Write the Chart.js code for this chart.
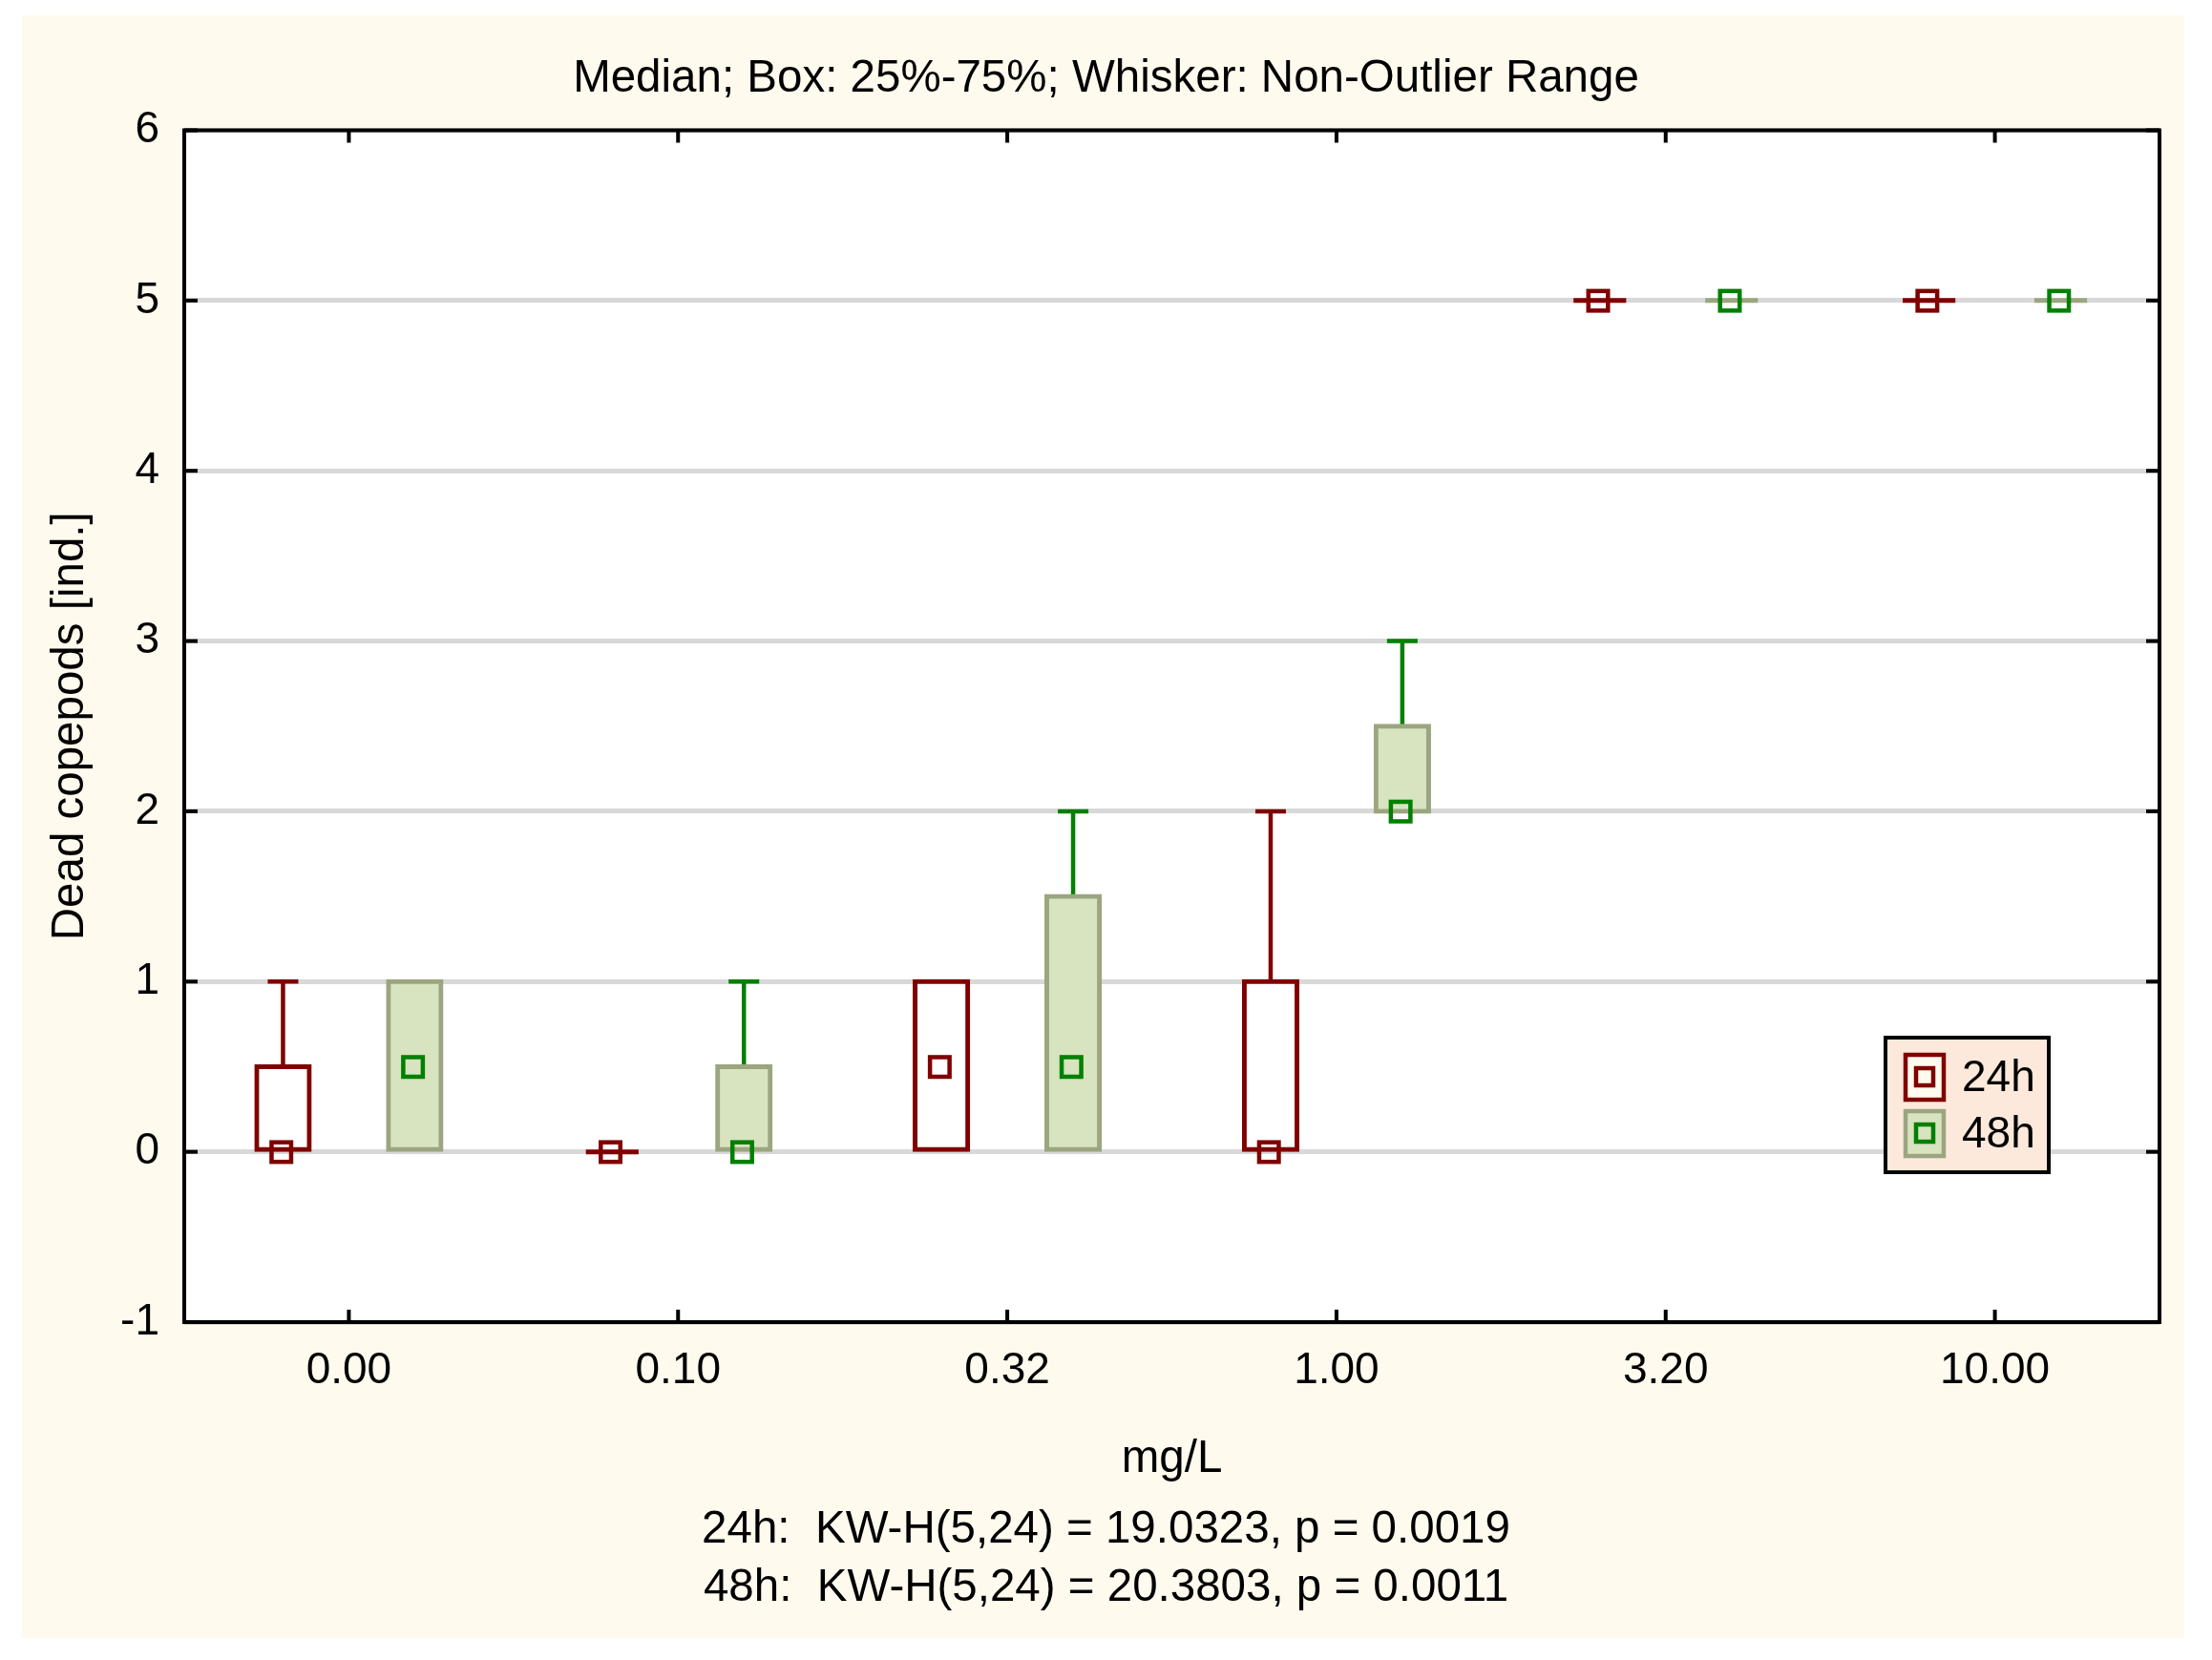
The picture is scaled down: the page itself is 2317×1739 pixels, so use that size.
<!DOCTYPE html>
<html>
<head>
<meta charset="utf-8">
<script src="https://cdn.jsdelivr.net/npm/chart.js@4.4.1/dist/chart.umd.min.js"></script>
<style>
html, body { margin: 0; padding: 0; background: #fff; }
#wrap { width: 2317px; height: 1739px; }
</style>
</head>
<body>
<div id="wrap"><canvas id="boxChart"></canvas></div>
<script>
const doses = ['0.00', '0.10', '0.32', '1.00', '3.20', '10.00'];
const seriesNames = ['24h', '48h'];

// 24h
const min24 = [0, 0, 0, 0, 5, 5];
const q1_24 = [0, 0, 0, 0, 5, 5];
const med24 = [0, 0, 0.5, 0, 5, 5];
const q3_24 = [0.5, 0, 1, 1, 5, 5];
const max24 = [1, 0, 1, 2, 5, 5];

// 48h
const min48 = [0, 0, 0, 2, 5, 5];
const q1_48 = [0, 0, 0, 2, 5, 5];
const med48 = [0.5, 0, 0.5, 2, 5, 5];
const q3_48 = [1, 0.5, 1.5, 2.5, 5, 5];
const max48 = [1, 1, 2, 3, 5, 5];

const statLines = [
    '24h:  KW-H(5,24) = 19.0323, p = 0.0019',
    '48h:  KW-H(5,24) = 20.3803, p = 0.0011'
];

const RED = '#800000';
const GREEN = '#008000';
const FILL48 = '#D8E3BF';
const EDGE48 = '#9BA680';
const CREAM = '#FFFAEE';
const FONT = "'Liberation Sans', Arial, sans-serif";

Chart.defaults.font.family = FONT;
Chart.defaults.color = '#000';

function boxes(lo, hi) {
    return lo.map((v, i) => [v, hi[i]]);
}

function line(ctx, x1, y1, x2, y2) {
    ctx.beginPath();
    ctx.moveTo(x1, y1);
    ctx.lineTo(x2, y2);
    ctx.stroke();
}

function seriesInfo(chart) {
    return [
        { meta: chart.getDatasetMeta(0), mn: min24, lo: q1_24, md: med24, hi: q3_24, mx: max24, whisk: RED, edge: RED, mark: RED },
        { meta: chart.getDatasetMeta(1), mn: min48, lo: q1_48, md: med48, hi: q3_48, mx: max48, whisk: GREEN, edge: EDGE48, mark: GREEN }
    ];
}

const boxExtras = {
    id: 'boxExtras',
    beforeDraw(chart) {
        const ctx = chart.ctx, a = chart.chartArea;
        ctx.save();
        ctx.fillStyle = '#fff';
        ctx.fillRect(0, 0, chart.width, chart.height);
        ctx.fillStyle = CREAM;
        ctx.fillRect(23, 16, chart.width - 52, chart.height - 39);
        ctx.fillStyle = '#fff';
        ctx.fillRect(a.left, a.top, a.right - a.left, a.bottom - a.top);
        ctx.restore();
    },
    beforeDatasetsDraw(chart) {
        const ctx = chart.ctx, y = chart.scales.y;
        ctx.save();
        seriesInfo(chart).forEach(s => {
            s.meta.data.forEach((bar, i) => {
                const x = bar.x, half = bar.width / 2, cap = 16;
                ctx.strokeStyle = s.whisk;
                ctx.lineWidth = 4.5;
                if (s.mx[i] > s.hi[i]) {
                    line(ctx, x, y.getPixelForValue(s.hi[i]), x, y.getPixelForValue(s.mx[i]));
                    line(ctx, x - cap, y.getPixelForValue(s.mx[i]), x + cap, y.getPixelForValue(s.mx[i]));
                }
                if (s.mn[i] < s.lo[i]) {
                    line(ctx, x, y.getPixelForValue(s.lo[i]), x, y.getPixelForValue(s.mn[i]));
                    line(ctx, x - cap, y.getPixelForValue(s.mn[i]), x + cap, y.getPixelForValue(s.mn[i]));
                }
                if (s.lo[i] === s.hi[i]) {
                    ctx.strokeStyle = s.edge;
                    ctx.lineWidth = 5;
                    line(ctx, x - half, y.getPixelForValue(s.lo[i]), x + half, y.getPixelForValue(s.lo[i]));
                }
            });
        });
        ctx.restore();
    },
    afterDatasetsDraw(chart) {
        const ctx = chart.ctx, a = chart.chartArea;
        const x = chart.scales.x, y = chart.scales.y;
        ctx.save();

        // median markers (hollow squares)
        seriesInfo(chart).forEach(s => {
            ctx.strokeStyle = s.mark;
            ctx.lineWidth = 4.5;
            s.meta.data.forEach((bar, i) => {
                const py = y.getPixelForValue(s.md[i]);
                ctx.strokeRect(bar.x - 12, py - 10, 20.5, 20.5);
            });
        });

        // frame and inward ticks
        ctx.strokeStyle = '#000';
        ctx.lineWidth = 4;
        ctx.strokeRect(a.left, a.top, a.right - a.left, a.bottom - a.top);
        y.ticks.forEach(t => {
            const py = y.getPixelForValue(t.value);
            line(ctx, a.left, py, a.left + 14, py);
            line(ctx, a.right - 14, py, a.right, py);
        });
        x.ticks.forEach((t, i) => {
            const px = x.getPixelForTick(i);
            line(ctx, px, a.bottom - 13, px, a.bottom);
            line(ctx, px, a.top, px, a.top + 13);
        });

        // legend
        const lx = a.right - 287, ly = a.bottom - 298;
        ctx.fillStyle = '#FCE9DB';
        ctx.fillRect(lx, ly, 171, 141);
        ctx.strokeRect(lx, ly, 171, 141);
        const items = [
            { fill: CREAM, edge: RED, mark: RED },
            { fill: FILL48, edge: EDGE48, mark: GREEN }
        ];
        items.forEach((it, k) => {
            const sx = lx + 21, sy = ly + 18 + k * 59;
            ctx.fillStyle = it.fill;
            ctx.fillRect(sx, sy, 40, 47);
            ctx.strokeStyle = it.edge;
            ctx.lineWidth = 4.5;
            ctx.strokeRect(sx, sy, 40, 47);
            ctx.strokeStyle = it.mark;
            ctx.strokeRect(sx + 11, sy + 14, 18, 18);
            ctx.fillStyle = '#000';
            ctx.font = '46px ' + FONT;
            ctx.textAlign = 'left';
            ctx.textBaseline = 'middle';
            ctx.fillText(seriesNames[k], lx + 80, sy + 25);
        });
        ctx.restore();
    }
};

const tickFont = { family: FONT, size: 46, weight: 'normal', lineHeight: 1.2 };
const labelFont = { family: FONT, size: 47.5, weight: 'normal', lineHeight: 1.2 };

new Chart(document.getElementById('boxChart'), {
    type: 'bar',
    data: {
        labels: doses,
        datasets: [
            {
                label: seriesNames[0], data: boxes(q1_24, q3_24),
                backgroundColor: '#fff', borderColor: RED, borderWidth: 5,
                borderSkipped: false, inflateAmount: 2.5,
                categoryPercentage: 0.8, barPercentage: 0.4
            },
            {
                label: seriesNames[1], data: boxes(q1_48, q3_48),
                backgroundColor: FILL48, borderColor: EDGE48, borderWidth: 5,
                borderSkipped: false, inflateAmount: 2.5,
                categoryPercentage: 0.8, barPercentage: 0.4
            }
        ]
    },
    options: {
        responsive: true,
        maintainAspectRatio: false,
        animation: false,
        events: [],
        devicePixelRatio: 1,
        layout: { padding: 0 },
        plugins: {
            legend: { display: false },
            tooltip: { enabled: false },
            title: {
                display: true,
                text: 'Median; Box: 25%-75%; Whisker: Non-Outlier Range',
                color: '#000',
                font: labelFont,
                padding: { top: 54, bottom: 25.5 }
            },
            subtitle: {
                display: true,
                position: 'bottom',
                text: statLines,
                color: '#000',
                font: { family: FONT, size: 47.5, weight: 'normal', lineHeight: 1.284 },
                padding: { top: 13, bottom: 44.5 }
            }
        },
        scales: {
            x: {
                type: 'category',
                offset: true,
                grid: { display: false, drawTicks: false },
                border: { display: false },
                ticks: { color: '#000', font: tickFont, padding: 23.4, maxRotation: 0 },
                title: { display: true, text: 'mg/L', color: '#000', font: labelFont, padding: { top: 0, bottom: 2 } },
                afterFit: s => { s.height = 174.5; }
            },
            y: {
                type: 'linear',
                position: 'left',
                min: -1,
                max: 6,
                ticks: { stepSize: 1, color: '#000', font: tickFont, padding: 26 },
                grid: { color: '#D8D8D8', lineWidth: 5, drawTicks: false },
                border: { display: false },
                title: { display: true, text: 'Dead copepods [ind.]', color: '#000', font: labelFont, padding: { top: 45.5, bottom: 0 } },
                afterFit: s => { s.width = 193; }
            },
            yr: {
                type: 'linear',
                position: 'right',
                display: true,
                grid: { display: false, drawTicks: false },
                border: { display: false },
                ticks: { display: false },
                afterFit: s => { s.width = 55; }
            }
        }
    },
    plugins: [boxExtras]
});
</script>
</body>
</html>
